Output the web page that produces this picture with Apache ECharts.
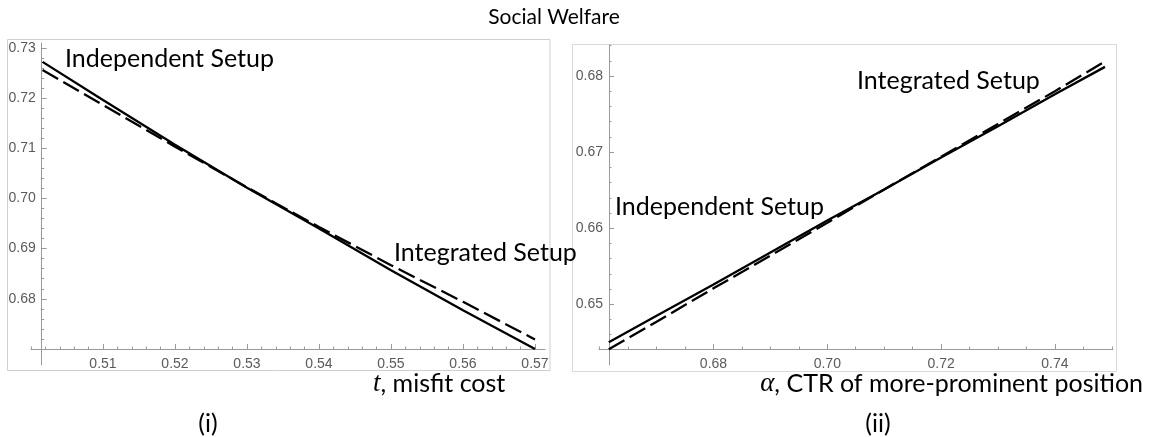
<!DOCTYPE html>
<html>
<head>
<meta charset="utf-8">
<script src="https://cdn.jsdelivr.net/npm/echarts@6/dist/echarts.min.js"></script>
<style>
html,body{margin:0;padding:0;background:#fff;}
#chart{width:1149px;height:437px;}
</style>
</head>
<body>
<div id="chart"></div>
<script>
// ---- data ----
var leftT = [0.5016, 0.51, 0.52, 0.53, 0.54, 0.55, 0.56, 0.57];
var leftIndependent = [0.7272, 0.7196, 0.7107, 0.7021, 0.6940, 0.6857, 0.6777, 0.6700];
var leftIntegrated  = [0.7256, 0.7186, 0.7103, 0.7022, 0.6943, 0.6867, 0.6794, 0.6719];
var leftXTicks = [0.51, 0.52, 0.53, 0.54, 0.55, 0.56, 0.57];
var leftYTicks = [0.68, 0.69, 0.70, 0.71, 0.72, 0.73];

var rightAlpha = [0.6616, 0.67, 0.68, 0.69, 0.70, 0.71, 0.72, 0.73, 0.74, 0.7488];
var rightIndependent = [0.6450, 0.6485, 0.6526, 0.6568, 0.6610, 0.6651, 0.6693, 0.6734, 0.6776, 0.6812];
var rightIntegrated  = [0.6441, 0.6477, 0.6521, 0.6564, 0.6607, 0.6651, 0.6694, 0.6737, 0.6780, 0.6819];
var rightXTicks = [0.68, 0.70, 0.72, 0.74];
var rightYTicks = [0.65, 0.66, 0.67, 0.68];

function range(a, b, step) {
  var out = [];
  var n = Math.round((b - a) / step);
  for (var i = 0; i <= n; i++) out.push(+(a + i * step).toFixed(4));
  return out;
}
var leftXMinor = range(0.500, 0.570, 0.002);
var leftYMinor = range(0.672, 0.730, 0.002);
var rightXMinor = range(0.660, 0.750, 0.005);
var rightYMinor = range(0.646, 0.684, 0.002);

function pairs(xs, ys) { return xs.map(function (x, i) { return [x, ys[i]]; }); }

var AX = '#9a9a9a';
var LBL = '#5a5a5a';
var TXTFONT = 'Lato, "Open Sans", sans-serif';
var NUMFONT = '"Liberation Sans", Arial, sans-serif';

function fmt(v) { return v.toFixed(2); }

function xAx(grid, min, max, majors, minors) {
  return [{
    type: 'value', gridIndex: grid, position: 'bottom', min: min, max: max, offset: -16,
    axisLine: { show: true, lineStyle: { color: AX, width: 1 } },
    axisTick: { show: true, inside: true, length: 5, customValues: majors, lineStyle: { color: AX } },
    axisLabel: { show: true, customValues: majors, margin: 8, color: LBL, fontSize: 14, fontFamily: NUMFONT, formatter: fmt },
    splitLine: { show: false }
  }, {
    type: 'value', gridIndex: grid, position: 'bottom', min: min, max: max, offset: -16,
    axisLine: { show: false },
    axisTick: { show: true, inside: true, length: 2.5, customValues: minors, lineStyle: { color: AX } },
    axisLabel: { show: false }, splitLine: { show: false }
  }];
}
function yAx(grid, min, max, off, majors, minors) {
  return [{
    type: 'value', gridIndex: grid, position: 'left', min: min, max: max, offset: off,
    axisLine: { show: true, lineStyle: { color: AX, width: 1 } },
    axisTick: { show: true, inside: true, length: 5, customValues: majors, lineStyle: { color: AX } },
    axisLabel: { show: true, customValues: majors, margin: 6, color: LBL, fontSize: 14, fontFamily: NUMFONT, formatter: fmt },
    splitLine: { show: false }
  }, {
    type: 'value', gridIndex: grid, position: 'left', min: min, max: max, offset: off,
    axisLine: { show: false },
    axisTick: { show: true, inside: true, length: 2.5, customValues: minors, lineStyle: { color: AX } },
    axisLabel: { show: false }, splitLine: { show: false }
  }];
}

var xAxes = xAx(0, 0.5, 0.57139, leftXTicks, leftXMinor).concat(xAx(1, 0.65988, 0.75021, rightXTicks, rightXMinor));
var yAxes = yAx(0, 0.666813, 0.730956, -10.7, leftYTicks, leftYMinor).concat(yAx(1, 0.642024, 0.684074, -10, rightYTicks, rightYMinor));

function lineSeries(name, xi, yi, data, dashed) {
  return {
    name: name, type: 'line', xAxisIndex: xi, yAxisIndex: yi, data: data,
    showSymbol: false, symbol: 'none', silent: true, animation: false,
    lineStyle: { color: '#000', width: 2.3, type: dashed ? [18, 6] : 'solid' }
  };
}

var textItem = function (txt, x, y, align) {
  return { type: 'text', x: x, y: y, silent: true,
    style: { text: txt, fontSize: 25, fontFamily: TXTFONT, fill: '#000', align: align || 'left', verticalAlign: 'middle' } };
};

var chart = echarts.init(document.getElementById('chart'), null, { renderer: 'canvas' });
chart.setOption({
  animation: false,
  backgroundColor: '#fff',
  title: { text: 'Social Welfare', left: 549, top: 2, textAlign: 'center',
    textStyle: { fontSize: 21, fontWeight: 'normal', color: '#000', fontFamily: TXTFONT } },
  grid: [
    { left: 31, top: 43, width: 514, height: 322 },
    { left: 599, top: 45, width: 514, height: 320 }
  ],
  xAxis: xAxes,
  yAxis: yAxes,
  series: [
    lineSeries('Independent Setup', 0, 0, pairs(leftT, leftIndependent), false),
    lineSeries('Integrated Setup', 0, 0, pairs(leftT, leftIntegrated), true),
    lineSeries('Independent Setup', 2, 2, pairs(rightAlpha, rightIndependent), false),
    lineSeries('Integrated Setup', 2, 2, pairs(rightAlpha, rightIntegrated), true)
  ],
  graphic: [
    { type: 'rect', silent: true, z: -1, shape: { x: 7.5, y: 39.5, width: 542.5, height: 331 },
      style: { fill: 'none', stroke: '#cfcfcf', lineWidth: 1 } },
    { type: 'rect', silent: true, z: -1, shape: { x: 572.5, y: 44.5, width: 544, height: 327 },
      style: { fill: 'none', stroke: '#d9d9d9', lineWidth: 1 } },
    textItem('Independent Setup', 65, 59),
    textItem('Integrated Setup', 394, 253),
    textItem('Integrated Setup', 857, 81),
    textItem('Independent Setup', 615, 207),
    { type: 'text', x: 373, y: 384, silent: true,
      style: { text: '{i|t}, misfit cost', fontSize: 25, fontFamily: TXTFONT, fill: '#000', verticalAlign: 'middle',
        rich: { i: { fontFamily: '"Liberation Serif", serif', fontStyle: 'italic', fontSize: 27, fill: '#000' } } } },
    { type: 'text', x: 1143, y: 384, silent: true,
      style: { text: '{i|\u03b1}, CTR of more-prominent position', fontSize: 25, fontFamily: TXTFONT, fill: '#000', align: 'right', verticalAlign: 'middle',
        rich: { i: { fontFamily: '"Liberation Serif", serif', fontStyle: 'italic', fontSize: 27, fill: '#000' } } } },
    textItem('(i)', 208, 424, 'center'),
    textItem('(ii)', 878, 424, 'center')
  ]
});
</script>
</body>
</html>
